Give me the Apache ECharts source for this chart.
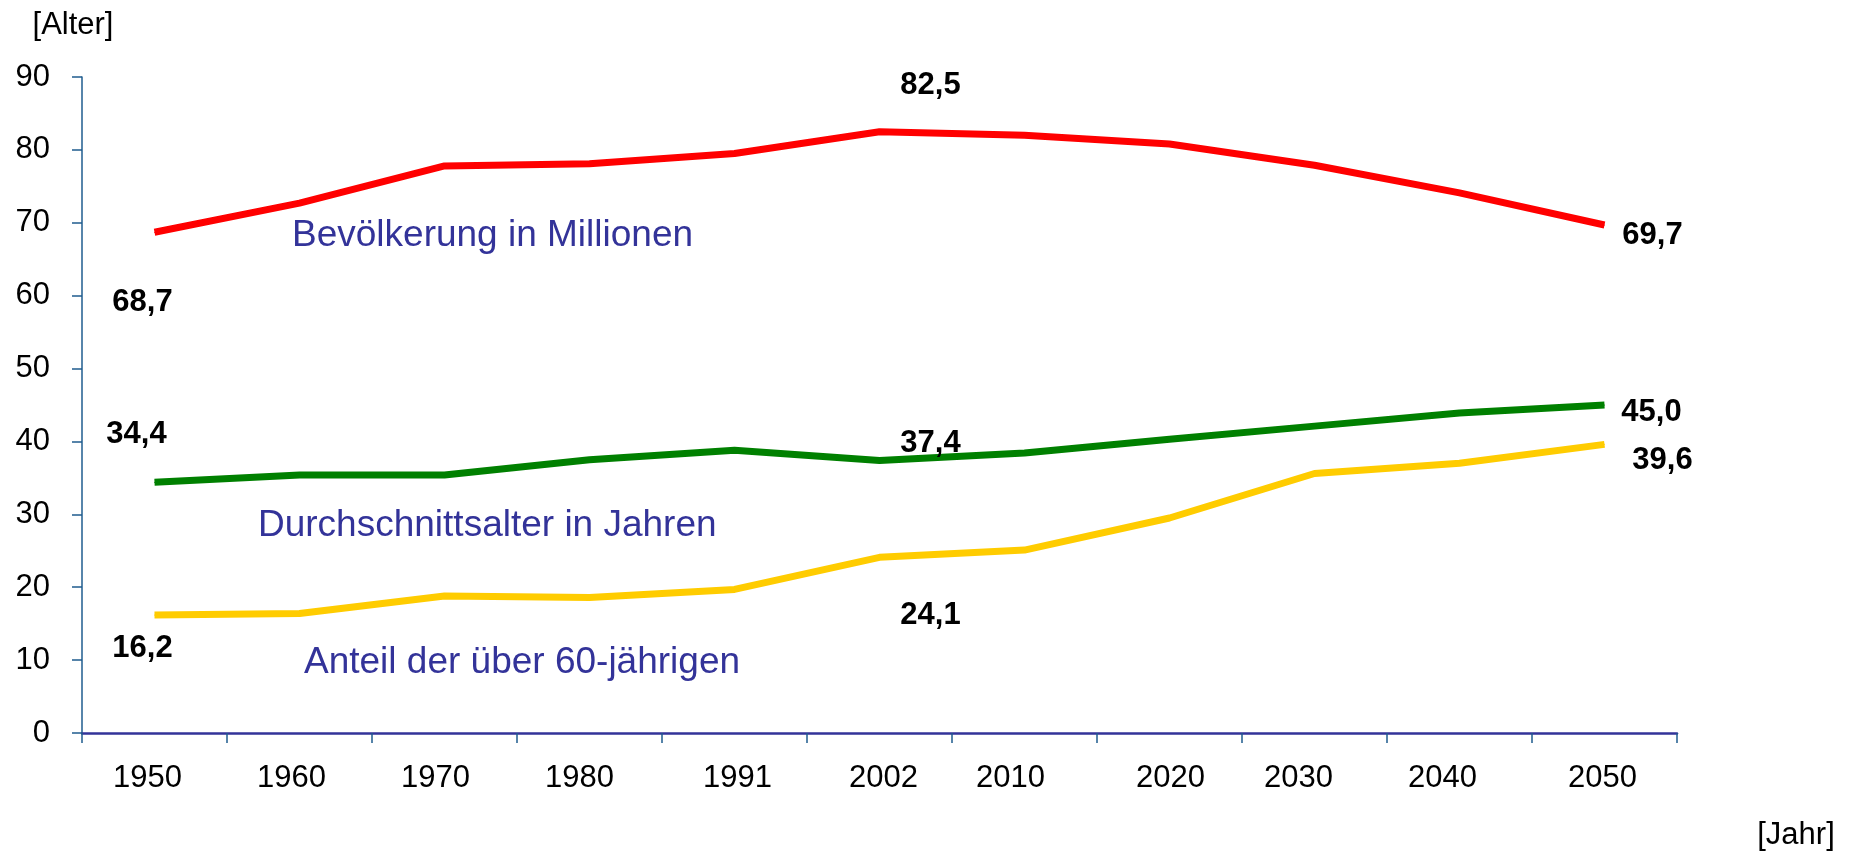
<!DOCTYPE html>
<html>
<head>
<meta charset="utf-8">
<script src="https://cdn.jsdelivr.net/npm/echarts@6/dist/echarts.min.js"></script>
<style>
    html, body { margin: 0; padding: 0; background: #fff; }
    #chart { width: 1854px; height: 851px; }
</style>
</head>
<body>
<div id="chart"></div>
<script>
// Data
const years = ['1950', '1960', '1970', '1980', '1991', '2002', '2010', '2020', '2030', '2040', '2050'];
const population = [68.7, 72.7, 77.8, 78.1, 79.5, 82.5, 82.0, 80.8, 77.9, 74.1, 69.7];
const averageAge = [34.4, 35.4, 35.4, 37.5, 38.8, 37.4, 38.4, 40.3, 42.1, 43.9, 45.0];
const shareOver60 = [16.2, 16.4, 18.8, 18.6, 19.7, 24.1, 25.1, 29.5, 35.6, 37.0, 39.6];
const labelledIdx = [0, 5, 10];

// Layout tweaks (pixel offsets of value labels / year labels)
const labelOffsets = {
    red: [[-12, 70], [51, -46], [48, 10]],
    green: [[-18, -48], [51, -17], [47, 7]],
    yellow: [[-12, 34], [51, 58], [58, 16]]
};
const yearShift = [-7, -8, -9, -10, 3, 4, -14, 1, -16, -17, -2];

const FONT = '"Liberation Sans", Arial, sans-serif';
const NOTE_COLOR = '#333399';
const AXIS_COLOR = '#1f5c8f';

const fmt = (v) => v.toFixed(1).replace('.', ',');

const buildData = (values, offsets) => values.map((v, i) => {
    const k = labelledIdx.indexOf(i);
    if (k < 0) return v;
    return {
        value: v,
        label: {
            show: true,
            position: 'inside',
            offset: offsets[k],
            formatter: (p) => fmt(p.value),
            color: '#000',
            fontFamily: FONT,
            fontSize: 31,
            fontWeight: 'bold'
        }
    };
});

const yearRich = {};
yearShift.forEach((d, i) => {
    yearRich['s' + i] = {
        fontFamily: FONT,
        fontSize: 31,
        color: '#000',
        padding: [0, d < 0 ? -2 * d : 0, 0, d > 0 ? 2 * d : 0]
    };
});

const lineSeries = (name, values, color, offsets) => ({
    name: name,
    type: 'line',
    data: buildData(values, offsets),
    symbol: 'circle',
    symbolSize: 1,
    showSymbol: true,
    lineStyle: { color: color, width: 7 },
    itemStyle: { color: color },
    label: { show: false },
    emphasis: { disabled: true },
    z: 3
});

const chart = echarts.init(document.getElementById('chart'));

const note = (text, x, y) => ({
    type: 'text',
    x: x,
    y: y,
    style: {
        text: text,
        fill: NOTE_COLOR,
        font: '37px ' + FONT,
        align: 'left',
        verticalAlign: 'middle'
    }
});

const option = {
    animation: false,
    backgroundColor: '#fff',
    grid: {
        left: 82,
        right: 177,
        top: 77,
        bottom: 118,
        containLabel: false,
        outerBoundsMode: 'none'
    },
    xAxis: {
        type: 'category',
        data: years,
        boundaryGap: true,
        axisLine: { show: true, lineStyle: { color: NOTE_COLOR, width: 2.5 } },
        axisTick: { show: true, length: 10, lineStyle: { color: AXIS_COLOR, width: 1.5 } },
        axisLabel: {
            margin: 30,
            interval: 0,
            formatter: (value, idx) => '{s' + idx + '|' + value + '}',
            rich: yearRich
        },
        splitLine: { show: false }
    },
    yAxis: {
        type: 'value',
        min: 0,
        max: 90,
        interval: 10,
        axisLine: { show: true, lineStyle: { color: AXIS_COLOR, width: 1.5 } },
        axisTick: { show: true, length: 10, lineStyle: { color: AXIS_COLOR, width: 1.5 } },
        axisLabel: {
            margin: 32,
            color: '#000',
            fontFamily: FONT,
            fontSize: 31,
            padding: [4, 0, 0, 0]
        },
        splitLine: { show: false }
    },
    graphic: [
        note('Bevölkerung in Millionen', 292, 236),
        note('Durchschnittsalter in Jahren', 258, 526),
        note('Anteil der über 60-jährigen', 304, 663),
        {
            type: 'text',
            x: 73,
            y: 25,
            style: { text: '[Alter]', fill: '#000', font: '31px ' + FONT, align: 'center', verticalAlign: 'middle' }
        },
        {
            type: 'text',
            x: 1796,
            y: 835,
            style: { text: '[Jahr]', fill: '#000', font: '31px ' + FONT, align: 'center', verticalAlign: 'middle' }
        }
    ],
    series: [
        lineSeries('Bevölkerung in Millionen', population, '#ff0000', labelOffsets.red),
        lineSeries('Durchschnittsalter in Jahren', averageAge, '#008000', labelOffsets.green),
        lineSeries('Anteil der über 60-jährigen', shareOver60, '#ffcc00', labelOffsets.yellow)
    ]
};

chart.setOption(option);
</script>
</body>
</html>
